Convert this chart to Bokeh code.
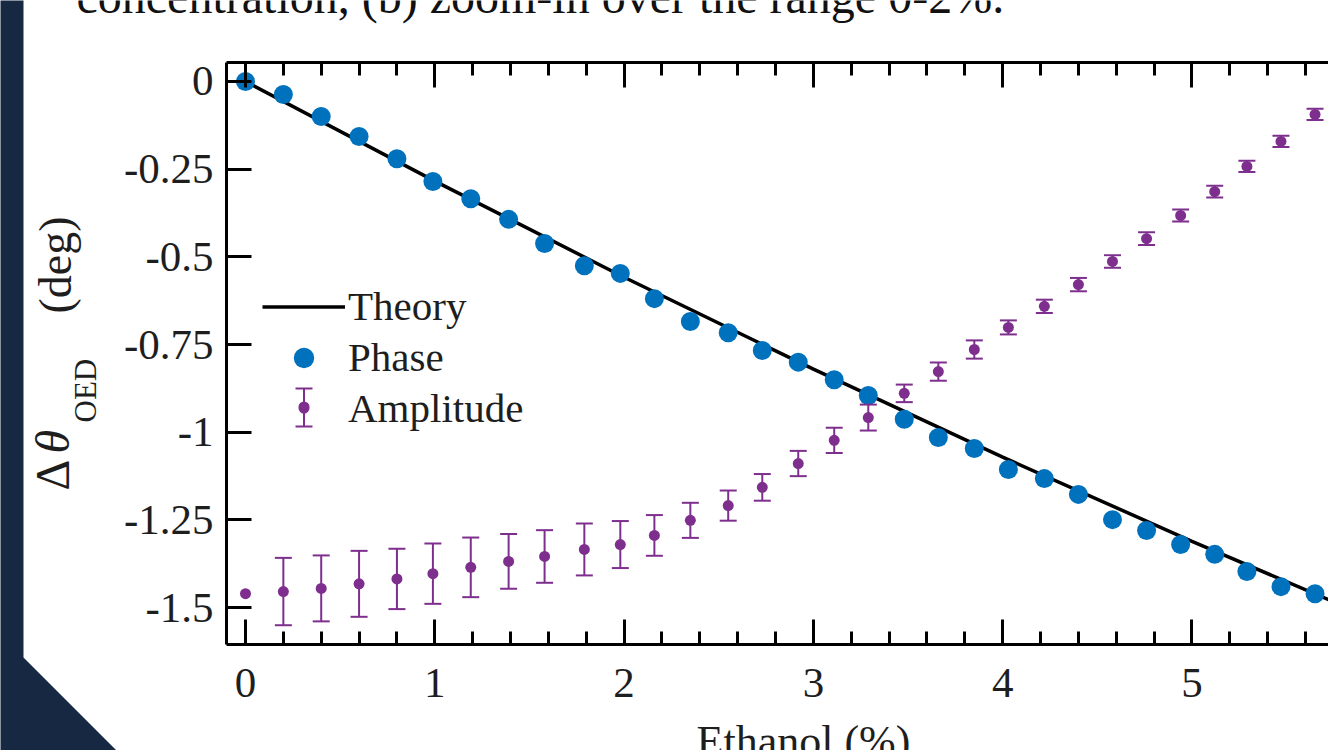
from bokeh.plotting import figure
from bokeh.models import (Range1d, LinearAxis, FixedTicker, NumeralTickFormatter,
                          CustomJSTickFormatter, ColumnDataSource, Whisker, TeeHead,
                          Legend, LegendItem, Label, PolyAnnotation)
from bokeh.embed import file_html
from bokeh.resources import INLINE

# ---------------- data ----------------
ethanol = [0.00, 0.20, 0.40, 0.60, 0.80, 0.99, 1.19, 1.39, 1.58, 1.79, 1.98,
           2.16, 2.35, 2.55, 2.73, 2.92, 3.11, 3.29, 3.48, 3.66, 3.85,
           4.03, 4.22, 4.40, 4.58, 4.76, 4.94, 5.12, 5.29, 5.47, 5.65]
phase = [0.000, -0.037, -0.100, -0.157, -0.220, -0.285, -0.334, -0.393, -0.462, -0.525, -0.547,
         -0.619, -0.684, -0.716, -0.767, -0.800, -0.850, -0.895, -0.963, -1.015, -1.046,
         -1.106, -1.132, -1.177, -1.249, -1.280, -1.320, -1.348, -1.397, -1.440, -1.460]
amplitude = [-1.460, -1.454, -1.445, -1.432, -1.418, -1.403, -1.385, -1.368, -1.354, -1.334, -1.320,
             -1.294, -1.251, -1.209, -1.157, -1.089, -1.023, -0.958, -0.889, -0.827, -0.764,
             -0.701, -0.641, -0.579, -0.513, -0.448, -0.382, -0.314, -0.242, -0.171, -0.094]
amplitude_err = [0.000, 0.096, 0.094, 0.094, 0.086, 0.086, 0.085, 0.078, 0.075, 0.074, 0.067,
                 0.058, 0.050, 0.043, 0.038, 0.036, 0.036, 0.037, 0.025, 0.026, 0.026,
                 0.020, 0.019, 0.019, 0.018, 0.018, 0.017, 0.017, 0.016, 0.016, 0.016]
theory_x = [0.0, 1.0, 2.0, 3.0, 4.0, 5.0, 5.8]
theory_y = [0.0, -0.284, -0.558, -0.820, -1.071, -1.311, -1.495]

x_ticks = [0, 1, 2, 3, 4, 5]
x_minor_ticks = [0.2, 0.4, 0.6, 0.8, 1.2, 1.4, 1.6, 1.8, 2.2, 2.4, 2.6, 2.8,
                 3.2, 3.4, 3.6, 3.8, 4.2, 4.4, 4.6, 4.8, 5.2, 5.4, 5.6]
y_ticks = [-1.5, -1.25, -1.0, -0.75, -0.5, -0.25, 0.0]

legend_labels = ["Theory", "Phase", "Amplitude"]
caption = "concentration, (b) zoom-in over the range 0-2%."
x_label = "Ethanol (%)"

# axes box (data units)
X_MIN, X_MAX = -0.1, 5.8
Y_MIN, Y_MAX = -1.605, 0.054

# ---------------- style ----------------
FONT = "Liberation Serif"
BLUE = "#0072BD"
PURPLE = "#7E2F8E"
NAVY = "#172942"
TXT = "#1e1e1e"

# the frame covers the whole canvas; axes are pinned with fixed_location
p = figure(width=1328, height=750, output_backend="svg", toolbar_location=None,
           x_range=Range1d(-1.2942, 5.7211), y_range=Range1d(-1.9071, 0.2309),
           x_axis_location=None, y_axis_location=None,
           min_border_left=0, min_border_right=0, min_border_top=0, min_border_bottom=0)
p.outline_line_color = None
p.background_fill_color = "white"
p.border_fill_color = "white"
p.xgrid.visible = False
p.ygrid.visible = False


def style_axis(ax):
    ax.axis_line_width = 3
    ax.axis_line_color = "black"
    ax.major_tick_in = 25
    ax.major_tick_out = 0
    ax.minor_tick_in = 13
    ax.minor_tick_out = 0
    ax.major_tick_line_width = 3
    ax.minor_tick_line_width = 3
    ax.major_tick_line_color = "black"
    ax.minor_tick_line_color = "black"
    ax.major_label_text_font = FONT
    ax.major_label_text_font_size = "43px"
    ax.major_label_text_color = TXT


xb = LinearAxis(ticker=FixedTicker(ticks=x_ticks, minor_ticks=x_minor_ticks),
                formatter=NumeralTickFormatter(format="0"),
                fixed_location=Y_MIN, bounds=(X_MIN, X_MAX))
style_axis(xb)
xb.major_label_standoff = 24
p.add_layout(xb, "below")

xt = LinearAxis(ticker=FixedTicker(ticks=x_ticks, minor_ticks=x_minor_ticks),
                formatter=CustomJSTickFormatter(code="return ''"),
                fixed_location=Y_MAX, bounds=(X_MIN, X_MAX))
style_axis(xt)
p.add_layout(xt, "above")

yl = LinearAxis(ticker=FixedTicker(ticks=y_ticks),
                formatter=NumeralTickFormatter(format="0.[00]"),
                fixed_location=X_MIN, bounds=(Y_MIN, Y_MAX))
style_axis(yl)
yl.minor_tick_line_color = None
yl.major_label_standoff = 13
p.add_layout(yl, "left")

# ---------------- glyphs ----------------
src_ph = ColumnDataSource(dict(x=ethanol, y=phase))
src_am = ColumnDataSource(dict(x=ethanol, y=amplitude))
has_err = [i for i, e in enumerate(amplitude_err) if e > 0]
src_err = ColumnDataSource(dict(x=[ethanol[i] for i in has_err],
                                lo=[amplitude[i] - amplitude_err[i] for i in has_err],
                                hi=[amplitude[i] + amplitude_err[i] for i in has_err]))

theory_r = p.line(theory_x, theory_y, line_color="black", line_width=3.5)
phase_r = p.scatter("x", "y", source=src_ph, size=19, fill_color=BLUE, line_color=None)

whisk = Whisker(source=src_err, base="x", lower="lo", upper="hi",
                line_color=PURPLE, line_width=2, level="glyph",
                upper_head=TeeHead(size=17, line_color=PURPLE, line_width=2),
                lower_head=TeeHead(size=17, line_color=PURPLE, line_width=2))
p.add_layout(whisk)
amp_r = p.scatter("x", "y", source=src_am, size=11, fill_color=PURPLE, line_color=None)

# legend (the amplitude symbol is drawn as an error bar below)
amp_leg = p.scatter(x=[], y=[], size=1, fill_alpha=0, line_alpha=0)
legend = Legend(items=[LegendItem(label=legend_labels[0], renderers=[theory_r]),
                       LegendItem(label=legend_labels[1], renderers=[phase_r]),
                       LegendItem(label=legend_labels[2], renderers=[amp_leg])],
                location=(262, 316.5), orientation="vertical",
                glyph_width=83, glyph_height=51, label_height=51, label_width=10,
                spacing=0, padding=0, margin=0, label_standoff=3,
                label_text_font=FONT, label_text_font_size="41px", label_text_color=TXT,
                border_line_color=None, background_fill_alpha=0)
p.add_layout(legend)

leg_bar_src = ColumnDataSource(dict(b=[303.5], lo=[324.0], hi=[362.0]))
p.add_layout(Whisker(source=leg_bar_src, base="b", lower="lo", upper="hi",
                     base_units="screen", lower_units="screen", upper_units="screen",
                     line_color=PURPLE, line_width=2,
                     upper_head=TeeHead(size=17, line_color=PURPLE, line_width=2),
                     lower_head=TeeHead(size=17, line_color=PURPLE, line_width=2)))
leg_dot_src = ColumnDataSource(dict(b=[303.5], lo=[342.5], hi=[343.5]))
p.add_layout(Whisker(source=leg_dot_src, base="b", lower="lo", upper="hi",
                     base_units="screen", lower_units="screen", upper_units="screen",
                     line_color=PURPLE, line_width=11, line_cap="round",
                     upper_head=None, lower_head=None))

# ---------------- texts ----------------
def lab(text, x, y, size, angle=0, style="normal", align="left", baseline="alphabetic", color=TXT):
    p.add_layout(Label(x=x, y=y, x_units="screen", y_units="screen", text=text,
                       angle=angle, angle_units="deg", text_font=FONT,
                       text_font_size=size, text_font_style=style, text_color=color,
                       text_align=align, text_baseline=baseline))

lab("Δ", 52, 260, "48px", angle=90)
lab("θ", 52, 297, "48px", angle=90, style="italic")
lab("OED", 85, 328, "31px", angle=90)
lab("(deg)", 55, 437, "46px", angle=90)
lab(x_label, 803, 9, "44px", align="center")
lab(caption, 76, 754, "48px", color="#111111")

# decorative navy band of the page
p.add_layout(PolyAnnotation(xs=[-20, 23, 23, 120, -20], ys=[770, 770, 93, -4, -4],
                            xs_units="screen", ys_units="screen",
                            fill_color=NAVY, fill_alpha=1, line_color=None))

open("out.html", "w").write(file_html(p, INLINE))
